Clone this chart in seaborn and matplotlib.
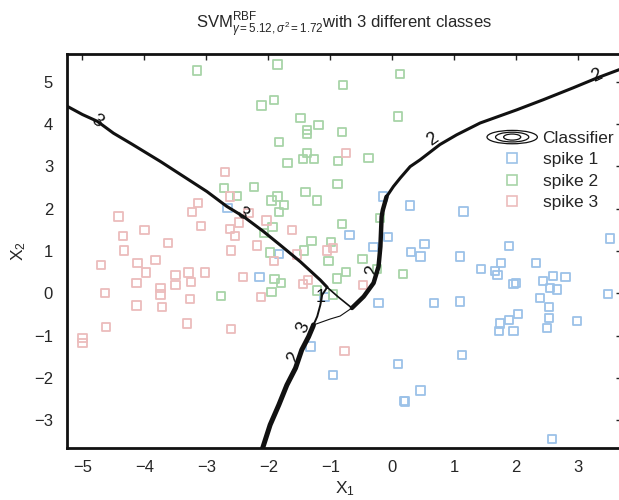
import numpy as np
import pandas as pd
import matplotlib
matplotlib.use("Agg")
import matplotlib.pyplot as plt
import seaborn as sns
from matplotlib.lines import Line2D
from matplotlib.patches import Ellipse
from matplotlib.legend_handler import HandlerBase

# --- data ------------------------------------------------------------------
spike1_x = [-2.66, -2.14, -1.83, -1.09, -1.32, -0.95, -0.69, -0.30, -0.07, -0.22,
            -0.15, 0.29, 0.09, 0.46, 0.19, 0.21, 0.30, 0.52, 0.46, 1.15,
            1.89, 1.09, 1.43, 1.76, 2.32, 1.66, 1.70, 1.96, 2.00, 2.44,
            2.60, 2.80, 2.55, 2.66, 3.48, 3.52, 0.68, 1.09, 2.39, 2.53,
            2.53, 2.03, 1.89, 1.74, 1.72, 1.96, 2.50, 2.98, 1.13, 2.58]
spike1_y = [2.02, 0.38, 0.93, -0.09, -1.26, -1.93, 1.38, 1.09, 1.32, -0.23,
            2.28, 2.07, -1.67, -2.30, -2.54, -2.56, 0.98, 1.16, 0.87, 1.93,
            1.12, 0.87, 0.57, 0.72, 0.72, 0.53, 0.43, 0.21, 0.24, 0.29,
            0.41, 0.38, 0.12, 0.09, -0.02, 1.29, -0.23, -0.20, -0.11, -0.32,
            -0.58, -0.49, -0.63, -0.72, -0.89, -0.89, -0.83, -0.65, -1.46, -3.45]

spike2_x = [-3.15, -2.11, -1.85, 0.13, -0.79, -1.91, -1.48, -1.19, -1.37, -1.37,
            0.09, -0.81, -1.83, -1.37, -1.44, -1.26, -0.87, -0.38, -1.69, -2.23,
            -2.72, -0.88, -2.50, -1.40, -1.85, -1.95, -1.75, -1.21, -1.83, -0.20,
            -1.93, -2.07, -0.81, -1.30, -0.99, -1.42, -1.97, -1.03, -0.48, -0.74,
            -0.25, 0.17, -1.90, -1.79, -0.89, -1.95, -1.21, -0.95, -2.76]
spike2_y = [5.26, 4.43, 5.40, 5.18, 4.92, 4.57, 4.14, 3.97, 3.86, 3.76,
            4.17, 3.80, 3.57, 3.31, 3.17, 3.17, 3.13, 3.19, 3.07, 2.51,
            2.48, 2.58, 2.30, 2.39, 2.28, 2.19, 2.08, 2.19, 1.91, 1.77,
            1.56, 1.42, 1.64, 1.23, 1.21, 1.01, 0.96, 0.76, 0.80, 0.50,
            0.57, 0.46, 0.34, 0.24, 0.35, 0.03, 0.06, -0.03, -0.06]

spike3_x = [-2.70, -2.62, -3.13, -3.23, -4.42, -2.32, -2.03, -0.75, -2.47, -4.00,
            -2.62, -4.35, -3.09, -2.54, -3.62, -4.33, -2.60, -2.18, -1.62, -1.54,
            -1.05, -0.95, -1.91, -4.70, -4.11, -3.82, -3.97, -3.50, -3.29, -3.02,
            -4.13, -3.25, -3.50, -3.74, -2.41, -4.64, -3.74, -2.12, -3.26, -4.13,
            -3.72, -4.62, -3.31, -2.60, -5.00, -5.00, -1.44, -1.36, -0.47, -0.77]
spike3_y = [2.87, 2.28, 2.13, 1.92, 1.81, 1.90, 1.72, 3.31, 1.67, 1.50,
            1.52, 1.35, 1.58, 1.35, 1.18, 1.01, 1.01, 1.13, 1.50, 0.91,
            1.01, 1.06, 0.76, 0.66, 0.72, 0.78, 0.49, 0.43, 0.49, 0.49,
            0.24, 0.26, 0.20, 0.13, 0.38, 0.00, -0.03, -0.09, -0.14, -0.29,
            -0.32, -0.80, -0.72, -0.84, -1.06, -1.17, 0.22, 0.31, 0.20, -1.36]

# classifier boundaries (traced)
bound_a_x = [-5.24, -5.00, -4.76, -4.50, -4.20, -3.74, -3.37, -2.99, -2.67, -2.40,
             -2.08, -1.81, -1.48, -1.16, -1.05]
bound_a_y = [4.41, 4.22, 4.06, 3.78, 3.52, 3.11, 2.76, 2.40, 2.05, 1.81,
             1.46, 1.14, 0.74, 0.31, 0.14]
bound_b_top_x = [3.72, 3.30, 2.92, 2.44, 2.01, 1.42, 1.04, 0.77, 0.45, 0.29,
                 0.13, 0.02, -0.09]
bound_b_top_y = [5.31, 5.08, 4.85, 4.57, 4.33, 4.02, 3.74, 3.51, 3.15, 2.99,
                 2.72, 2.52, 2.28]
bound_b_low_x = [-0.09, -0.15, -0.17, -0.19, -0.22, -0.30, -0.46, -0.65]
bound_b_low_y = [2.28, 1.97, 1.81, 1.10, 0.63, 0.24, -0.08, -0.35]
bound_c_top_x = [-1.05, -1.13, -1.16, -1.21, -1.27]
bound_c_top_y = [0.14, -0.04, -0.28, -0.55, -0.75]
bound_c_low_x = [-1.27, -1.28, -1.35, -1.46, -1.56, -1.70, -1.83, -1.97, -2.10]
bound_c_low_y = [-0.75, -0.79, -1.03, -1.34, -1.77, -2.17, -2.64, -3.11, -3.70]
thin_1_x = [-1.05, -0.87, -0.65]
thin_1_y = [0.14, -0.09, -0.35]
thin_2_x = [-0.65, -0.84, -1.00, -1.27]
thin_2_y = [-0.35, -0.54, -0.61, -0.75]

label_text = ["3", "3", "2", "2", "2", "3", "2", "1"]
label_x = [-4.76, -2.42, 0.66, 3.31, -0.31, -1.44, -1.58, -1.16]
label_y = [4.07, 1.87, 3.62, 5.14, 0.53, -0.82, -1.51, -0.11]
label_rot = [-35, -40, 35, 25, 80, 65, 65, 0]

classes = ["spike 1", "spike 2", "spike 3"]
colors = ["#9cc2e8", "#a8d4a8", "#ecbcbc"]

# ---------------------------------------------------------------------------
sns.set_style("white")
plt.rcParams["font.family"] = ["Liberation Sans", "DejaVu Sans"]
plt.rcParams["mathtext.fontset"] = "custom"
plt.rcParams["mathtext.rm"] = "Liberation Sans"
plt.rcParams["mathtext.it"] = "Liberation Sans:italic"

df = pd.concat([
    pd.DataFrame({"x": spike1_x, "y": spike1_y, "cls": classes[0]}),
    pd.DataFrame({"x": spike2_x, "y": spike2_y, "cls": classes[1]}),
    pd.DataFrame({"x": spike3_x, "y": spike3_y, "cls": classes[2]}),
])

fig = plt.figure(figsize=(6.19, 5.0), dpi=100)
ax = fig.add_axes([0.1082, 0.1046, 0.8966, 0.7874])

for cls, col in zip(classes, colors):
    sub = df[df["cls"] == cls]
    sns.scatterplot(data=sub, x="x", y="y", ax=ax, marker="s", s=36,
                    facecolors="none", edgecolor=col, linewidth=1.3, zorder=2)

# decision boundaries
ax.plot(bound_a_x, bound_a_y, color="#111111", lw=2.2, zorder=3)
ax.plot(bound_b_top_x, bound_b_top_y, color="#111111", lw=2.2, zorder=3)
ax.plot(bound_b_low_x, bound_b_low_y, color="#111111", lw=3.2, zorder=3)
ax.plot(bound_c_top_x, bound_c_top_y, color="#111111", lw=1.4, zorder=3)
ax.plot(bound_c_low_x, bound_c_low_y, color="#111111", lw=3.6, zorder=3)
ax.plot(thin_1_x, thin_1_y, color="#111111", lw=1.2, zorder=3)
ax.plot(thin_2_x, thin_2_y, color="#111111", lw=0.8, zorder=3)
for t, lx, ly, r in zip(label_text, label_x, label_y, label_rot):
    ax.text(lx, ly, t, fontsize=13, rotation=r, ha="center", va="center",
            color="#111111", zorder=4)

ax.set_xlim(-5.25, 3.71)
ax.set_ylim(-3.65, 5.65)
ax.set_xticks(range(-5, 4))
ax.set_yticks(range(-3, 6))
ax.tick_params(direction="in", top=True, right=True, length=4, width=1,
               labelsize=12, color="#222222")
ax.tick_params(axis="x", pad=9)
ax.tick_params(axis="y", pad=10)
for sp in ax.spines.values():
    sp.set_linewidth(2.0)
    sp.set_color("#111111")
ax.set_xlabel("X$_1$", fontsize=12.5, labelpad=3)
ax.set_ylabel("X$_2$", fontsize=12.5, labelpad=4)
ax.set_title(r"SVM$^{\mathrm{RBF}}_{\gamma\mathrm{=5.12},\sigma^2\mathrm{=1.72}}$with 3 different classes",
             fontsize=12, pad=18)


class ContourHandle:
    pass


class ContourHandler(HandlerBase):
    def create_artists(self, legend, orig_handle, xdescent, ydescent,
                       width, height, fontsize, trans):
        cx = width / 2 - xdescent
        cy = height / 2 - ydescent
        arts = []
        for k, kh in [(1.0, 1.1), (0.66, 0.8), (0.34, 0.5)]:
            arts.append(Ellipse((cx, cy), width * k, height * kh, fill=False,
                                ec="#111111", lw=0.9, transform=trans))
        return arts


handles = [ContourHandle()] + [
    Line2D([], [], marker="s", ls="", mfc="none", mec=c, ms=6.5, mew=1.2)
    for c in colors
]
labels = ["Classifier"] + classes
leg = ax.legend(handles, labels, handler_map={ContourHandle: ContourHandler()},
                loc="upper left", bbox_to_anchor=(487 / 619, 1 - 131 / 500),
                bbox_transform=fig.transFigure, frameon=False, fontsize=12.5,
                handlelength=2.9, handletextpad=0.3, labelspacing=0.35,
                borderpad=0, borderaxespad=0)

fig.savefig("out.png", dpi=100)
